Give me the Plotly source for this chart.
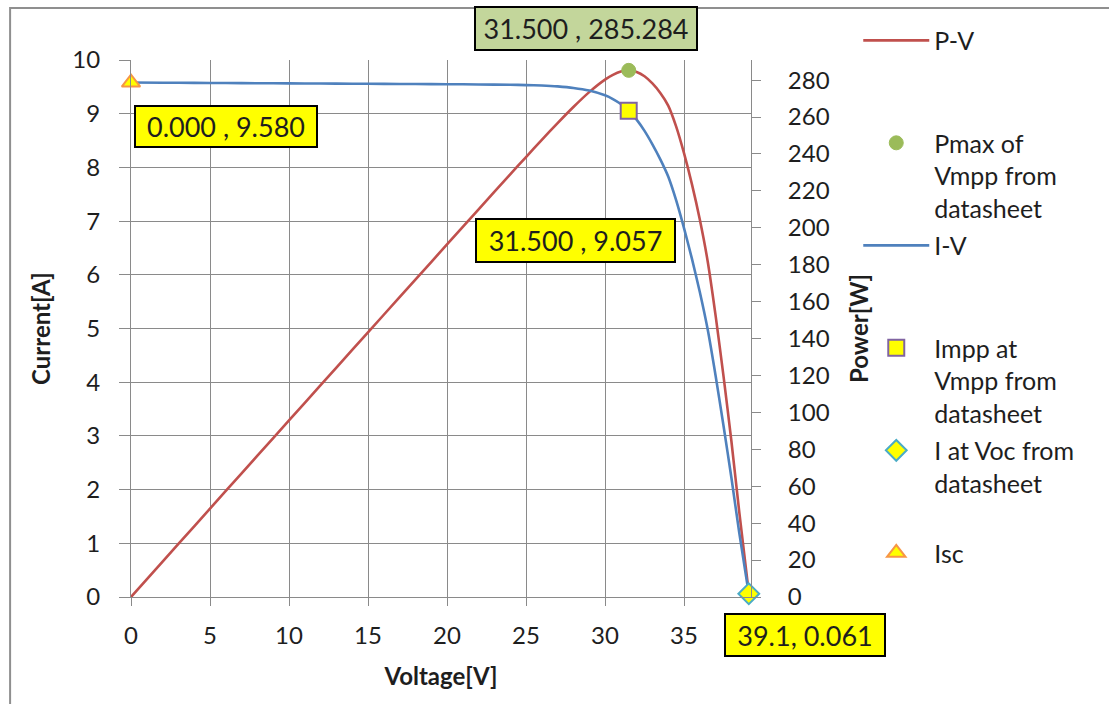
import plotly.graph_objects as go

# ---- data ----
voltage = [0, 2, 4, 6, 8, 10, 12, 14, 16, 18, 20, 22, 24, 25, 26, 27, 28, 29, 30,
           30.5, 31, 31.5, 32, 32.5, 33, 33.5, 34, 34.5, 35, 35.5, 36, 36.5, 37,
           37.5, 38, 38.5, 39.1]
current = [9.580, 9.577, 9.574, 9.571, 9.568, 9.565, 9.562, 9.559, 9.556, 9.552,
           9.549, 9.545, 9.539, 9.533, 9.524, 9.508, 9.480, 9.431, 9.342,
           9.273, 9.181, 9.057, 8.889, 8.680, 8.430, 8.150, 7.830, 7.390, 6.870,
           6.300, 5.680, 4.980, 4.120, 3.190, 2.220, 1.190, 0.061]
power = [0.0, 19.154, 38.296, 57.426, 76.544, 95.650, 114.744, 133.826, 152.896,
         171.936, 190.980, 209.990, 228.936, 238.325, 247.624, 256.716, 265.440,
         273.499, 280.260, 282.827, 284.611, 285.284, 284.448, 282.100, 278.190,
         273.025, 266.220, 254.955, 240.450, 223.650, 204.480, 181.770, 152.440,
         119.625, 84.360, 45.815, 2.385]

vmpp = [31.5]
pmax = [285.284]
impp = [9.057]
voc = [39.1]
i_voc = [0.061]
v_isc = [0.0]
isc = [9.580]

label_pmax = "31.500 , 285.284"
label_impp = "31.500 , 9.057"
label_voc = "39.1, 0.061"
label_isc = "0.000 , 9.580"

FONT = "Lato"
TXT = "#1e1e1e"
GRID = "#8a8a8a"
RED = "#C0504D"
BLUE = "#4F81BD"

fig = go.Figure()

# power axis = y (right), current axis = y2 (left, overlaying, drawn on top)
fig.add_trace(go.Scatter(x=voltage, y=power, name="P-V<br> <br> ", mode="lines",
                         line=dict(color=RED, width=2.6, shape="spline", smoothing=0.6),
                         yaxis="y", legendgroup="a"))
fig.add_trace(go.Scatter(x=vmpp, y=pmax, name="Pmax of<br>Vmpp from<br>datasheet",
                         mode="markers", yaxis="y", legendgroup="b", cliponaxis=False,
                         marker=dict(symbol="circle", size=14, color="#9BBB59",
                                     line=dict(color="#9BBB59", width=1))))
fig.add_trace(go.Scatter(x=voltage, y=current, name="I-V<br> <br> ", mode="lines",
                         line=dict(color=BLUE, width=2.6, shape="spline", smoothing=0.6),
                         yaxis="y2", legendgroup="c"))
fig.add_trace(go.Scatter(x=vmpp, y=impp, name="Impp at<br>Vmpp from<br>datasheet",
                         mode="markers", yaxis="y2", legendgroup="d", cliponaxis=False,
                         marker=dict(symbol="square", size=16, color="#FFFF00",
                                     line=dict(color="#8064A2", width=2))))
fig.add_trace(go.Scatter(x=voc, y=i_voc, name="I at Voc from<br>datasheet<br> ",
                         mode="markers", yaxis="y2", legendgroup="e", cliponaxis=False,
                         marker=dict(symbol="diamond", size=16, color="#FFFF00",
                                     line=dict(color="#4BACC6", width=2))))
fig.add_trace(go.Scatter(x=v_isc, y=isc, name="Isc<br> <br> ",
                         mode="markers", yaxis="y2", legendgroup="f", cliponaxis=False,
                         marker=dict(symbol="triangle-up", size=16, color="#FFFF00",
                                     line=dict(color="#F79646", width=2))))

ann_font = dict(family=FONT, size=27, color=TXT)
annotations = [
    dict(x=v_isc[0], y=isc[0], xref="x", yref="y2", text=label_isc, showarrow=False,
         xshift=95, yshift=-44, bgcolor="#FFFF00", bordercolor="#000000",
         borderwidth=2, borderpad=2, width=176, height=35, font=ann_font),
    dict(x=vmpp[0], y=pmax[0], xref="x", yref="y", text=label_pmax, showarrow=False,
         xshift=-43, yshift=42, bgcolor="#C3D69B", bordercolor="#000000",
         borderwidth=2, borderpad=2, width=216, height=37, font=ann_font),
    dict(x=vmpp[0], y=impp[0], xref="x", yref="y2", text=label_impp, showarrow=False,
         xshift=-53, yshift=-130, bgcolor="#FFFF00", bordercolor="#000000",
         borderwidth=2, borderpad=2, width=193, height=37, font=ann_font),
    dict(x=voc[0], y=i_voc[0], xref="x", yref="y2", text=label_voc, showarrow=False,
         xshift=56, yshift=-41, bgcolor="#FFFF00", bordercolor="#000000",
         borderwidth=2, borderpad=2, width=154, height=36, font=ann_font),
]

tickfont = dict(family=FONT, size=24, color=TXT)
titlefont = dict(family=FONT, size=24, color=TXT, weight="bold")

fig.update_layout(
    width=1109, height=704,
    margin=dict(l=131, r=358, t=60, b=107, pad=0, autoexpand=False),
    paper_bgcolor="white", plot_bgcolor="white",
    font=dict(family=FONT, color=TXT),
    showlegend=True,
    legend=dict(x=1.173, xanchor="left", y=1.079, yanchor="top",
                maxheight=640,
                font=dict(family=FONT, size=25, color=TXT),
                valign="top", tracegroupgap=2, itemwidth=66,
                bgcolor="rgba(0,0,0,0)", borderwidth=0),
    xaxis=dict(range=[0, 39.24], tick0=0, dtick=5, showgrid=True, gridcolor=GRID,
               gridwidth=1, zeroline=False, showline=True, linecolor=GRID, linewidth=1,
               ticks="outside", ticklen=8, tickcolor=GRID, tickfont=tickfont,
               ticklabelstandoff=9,
               title=dict(text="Voltage[V]", font=titlefont, standoff=20)),
    yaxis=dict(range=[0, 290.9], tick0=0, dtick=20, side="right", showgrid=False,
               zeroline=False, showline=True, linecolor=GRID, linewidth=1,
               ticks="outside", ticklen=9, tickcolor=GRID, tickfont=tickfont,
               ticklabelstandoff=22,
               title=dict(text="Power[W]", font=titlefont, standoff=22)),
    yaxis2=dict(range=[0, 10], tick0=0, dtick=1, side="left", overlaying="y",
                showgrid=True, gridcolor=GRID, gridwidth=1, zeroline=False,
                showline=True, linecolor=GRID, linewidth=1,
                ticks="outside", ticklen=11, tickcolor=GRID, tickfont=tickfont,
                ticklabelstandoff=14,
                title=dict(text="Current[A]", font=titlefont, standoff=14)),
    annotations=annotations,
    shapes=[dict(type="rect", xref="paper", yref="paper",
                 x0=-0.195, x1=1.6, y0=-0.22, y1=1.0968,
                 line=dict(color="#8f8f8f", width=2), fillcolor="rgba(0,0,0,0)",
                 layer="above")],
)

fig.write_html("out.html", config={"displayModeBar": False},
               post_script="document.body.style.margin='0';")
